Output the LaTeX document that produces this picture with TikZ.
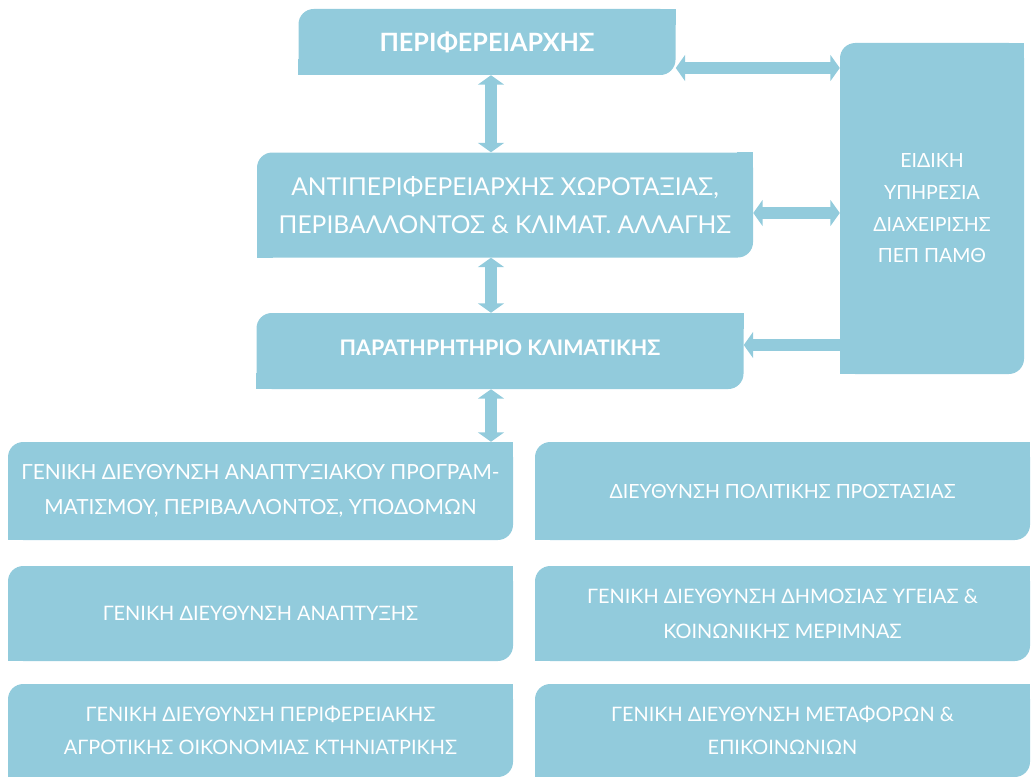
\documentclass[tikz,border=0pt]{standalone}
\usepackage{fontspec}
\setmainfont{Lato}
\usetikzlibrary{arrows.meta}
\definecolor{orgblue}{RGB}{146,203,220}
\tikzset{
	unit/.style = {shape=rectangle, rounded corners=13pt, fill=orgblue, text=white, align=center, inner sep=0pt},
	wh/.style 2 args = {minimum width=#1*0.3mm, minimum height=#2*0.3mm},
	link/.style = {draw=orgblue, line width=11pt},
	>={Triangle[width=22pt,length=8pt]},
}
\begin{document}
\begin{tikzpicture}[x=0.3mm, y=-0.3mm]
		\useasboundingbox (0,0) rectangle (1034,777);

		\node[unit, wh={377}{66}, font=\fontsize{21.5}{25}\selectfont\bfseries] (peri) at (487,42) {ΠΕΡΙΦΕΡΕΙΑΡΧΗΣ};
		\node[unit, wh={496}{105}, font=\fontsize{21}{32}\selectfont] (antip) at (505,205) {ΑΝΤΙΠΕΡΙΦΕΡΕΙΑΡΧΗΣ ΧΩΡΟΤΑΞΙΑΣ,\\ΠΕΡΙΒΑΛΛΟΝΤΟΣ \& ΚΛΙΜΑΤ. ΑΛΛΑΓΗΣ};
		\node[unit, wh={487}{76}, font=\fontsize{18.3}{22}\selectfont\bfseries] (parat) at (500,351) {\raisebox{5pt}{ΠΑΡΑΤΗΡΗΤΗΡΙΟ ΚΛΙΜΑΤΙΚΗΣ}};
		\node[unit, wh={184}{331}, font=\fontsize{16.7}{27}\selectfont] (eidiki) at (932,208.5) {ΕΙΔΙΚΗ\\ΥΠΗΡΕΣΙΑ\\ΔΙΑΧΕΙΡΙΣΗΣ\\ΠΕΠ ΠΑΜΘ};

		\node[unit, wh={505}{98}, font=\fontsize{17.8}{30}\selectfont] (gdap) at (260.5,491) {ΓΕΝΙΚΗ ΔΙΕΥΘΥΝΣΗ ΑΝΑΠΤΥΞΙΑΚΟΥ ΠΡΟΓΡΑΜ-\\ΜΑΤΙΣΜΟΥ, ΠΕΡΙΒΑΛΛΟΝΤΟΣ, ΥΠΟΔΟΜΩΝ};
		\node[unit, wh={495}{98}, font=\fontsize{16.7}{30}\selectfont] (dpp) at (782.5,491) {ΔΙΕΥΘΥΝΣΗ ΠΟΛΙΤΙΚΗΣ ΠΡΟΣΤΑΣΙΑΣ};
		\node[unit, wh={505}{95}, font=\fontsize{17}{30}\selectfont] (gdan) at (260.5,613.5) {ΓΕΝΙΚΗ ΔΙΕΥΘΥΝΣΗ ΑΝΑΠΤΥΞΗΣ};
		\node[unit, wh={495}{95}, font=\fontsize{17}{30}\selectfont] (gdy) at (782.5,613.5) {ΓΕΝΙΚΗ ΔΙΕΥΘΥΝΣΗ ΔΗΜΟΣΙΑΣ ΥΓΕΙΑΣ \&\\ΚΟΙΝΩΝΙΚΗΣ ΜΕΡΙΜΝΑΣ};
		\node[unit, wh={505}{93}, font=\fontsize{17}{28}\selectfont] (gdpa) at (260.5,730.5) {ΓΕΝΙΚΗ ΔΙΕΥΘΥΝΣΗ ΠΕΡΙΦΕΡΕΙΑΚΗΣ\\ΑΓΡΟΤΙΚΗΣ ΟΙΚΟΝΟΜΙΑΣ ΚΤΗΝΙΑΤΡΙΚΗΣ};
		\node[unit, wh={495}{93}, font=\fontsize{17}{28}\selectfont] (gdm) at (782.5,730.5) {ΓΕΝΙΚΗ ΔΙΕΥΘΥΝΣΗ ΜΕΤΑΦΟΡΩΝ \&\\ΕΠΙΚΟΙΝΩΝΙΩΝ};

		% square off the other two corners
		\foreach \n in {peri,antip,parat,eidiki,gdap,dpp,gdan,gdy,gdpa,gdm} {
			\fill[orgblue] (\n.north east) rectangle ++(-16,16);
			\fill[orgblue] (\n.south west) rectangle ++(16,-16);
		}

		\coordinate (vx) at (491,0);
		\coordinate (h1) at (0,68);
		\coordinate (h2) at (0,213);
		\coordinate (h3) at (0,345);

		\draw[link, <->] (vx |- peri.south) -- (vx |- antip.north);
		\draw[link, <->] (vx |- antip.south) -- (vx |- parat.north);
		\draw[link, <->] (vx |- parat.south) -- (vx |- gdap.north);
		\draw[link, <->] (peri.east |- h1) -- (eidiki.west |- h1);
		\draw[link, <->] (antip.east |- h2) -- (eidiki.west |- h2);
		\draw[link, <-] (parat.east |- h3) -- (eidiki.west |- h3);
	\end{tikzpicture}
\end{document}
